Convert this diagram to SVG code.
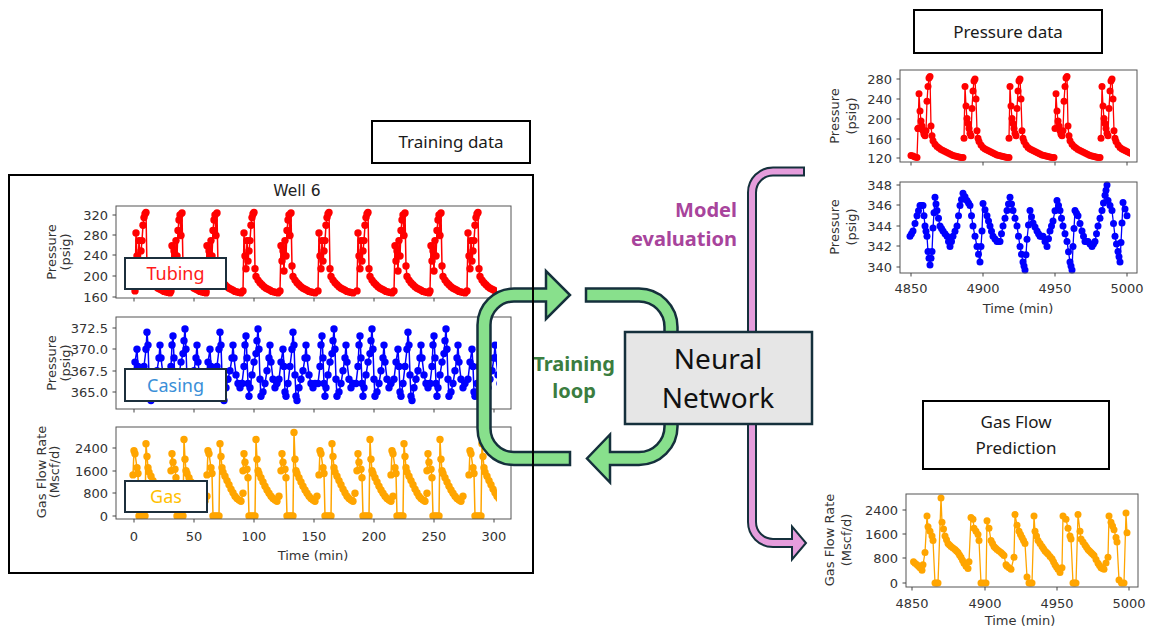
<svg xmlns="http://www.w3.org/2000/svg" xmlns:xlink="http://www.w3.org/1999/xlink" width="1155" height="633" viewBox="0 0 1155 633">
<style>
.frame{fill:none;stroke:#555;stroke-width:1}
.tick{stroke:#444;stroke-width:1;fill:none}
.tl{font-family:"DejaVu Sans",sans-serif;font-size:13px;fill:#333}
.ye{text-anchor:end}
.xm{text-anchor:middle}
.al{font-family:"DejaVu Sans",sans-serif;font-size:13px;fill:#333;text-anchor:middle}
.lr{fill:none;stroke:#ff0000;stroke-width:1.5;marker-start:url(#mR);marker-mid:url(#mR);marker-end:url(#mR)}
.lb{fill:none;stroke:#0000ff;stroke-width:1.5;marker-start:url(#mB);marker-mid:url(#mB);marker-end:url(#mB)}
.lo{fill:none;stroke:#ffa500;stroke-width:1.5;marker-start:url(#mO);marker-mid:url(#mO);marker-end:url(#mO)}
.lr2{fill:none;stroke:#ff0000;stroke-width:1.3;marker-start:url(#mR2);marker-mid:url(#mR2);marker-end:url(#mR2)}
.lb2{fill:none;stroke:#0000ff;stroke-width:1.3;marker-start:url(#mB2);marker-mid:url(#mB2);marker-end:url(#mB2)}
.lo2{fill:none;stroke:#ffa500;stroke-width:1.3;marker-start:url(#mO2);marker-mid:url(#mO2);marker-end:url(#mO2)}
.box{fill:#fff;stroke:#000;stroke-width:2}
.ttl{font-family:"Noto Sans",sans-serif;font-size:17px;fill:#1a1a1a;text-anchor:middle}
.lbl{fill:#fff;stroke:#1c2f3c;stroke-width:2}
.lbt{font-family:"Noto Sans",sans-serif;font-size:18px;text-anchor:middle}
.arrG{fill:#88e08c;stroke:#15303c;stroke-width:2.5;stroke-linejoin:miter}
.arrP{fill:#e59ddc;stroke:#15303c;stroke-width:2;stroke-linejoin:miter}
</style>
<defs>
<marker id="mR" markerUnits="userSpaceOnUse" markerWidth="10" markerHeight="10" refX="5" refY="5" overflow="visible"><circle cx="5" cy="5" r="3.7" fill="#ff0000"/></marker>
<marker id="mB" markerUnits="userSpaceOnUse" markerWidth="10" markerHeight="10" refX="5" refY="5" overflow="visible"><circle cx="5" cy="5" r="3.7" fill="#0000ff"/></marker>
<marker id="mO" markerUnits="userSpaceOnUse" markerWidth="10" markerHeight="10" refX="5" refY="5" overflow="visible"><circle cx="5" cy="5" r="3.7" fill="#ffa500"/></marker>
<marker id="mR2" markerUnits="userSpaceOnUse" markerWidth="10" markerHeight="10" refX="5" refY="5" overflow="visible"><circle cx="5" cy="5" r="3.5" fill="#ff0000"/></marker>
<marker id="mB2" markerUnits="userSpaceOnUse" markerWidth="10" markerHeight="10" refX="5" refY="5" overflow="visible"><circle cx="5" cy="5" r="3.5" fill="#0000ff"/></marker>
<marker id="mO2" markerUnits="userSpaceOnUse" markerWidth="10" markerHeight="10" refX="5" refY="5" overflow="visible"><circle cx="5" cy="5" r="3.5" fill="#ffa500"/></marker>
<clipPath id="cL1"><rect x="116" y="206" width="381" height="92"/></clipPath>
<clipPath id="cL2"><rect x="116" y="317" width="381" height="92"/></clipPath>
<clipPath id="cL3"><rect x="116" y="427" width="381" height="92"/></clipPath>
<clipPath id="cR1"><rect x="900" y="70" width="230" height="92"/></clipPath>
<clipPath id="cR3"><rect x="906" y="494" width="225" height="93"/></clipPath>
<polyline id="tubA" class="lr" points="0,290.9 1,232.9 2,256 3,268.8 4,240.6 5,261.1 6,250.9 7,240.6 8,225.3 9,217.6 10,214 11,212.4 12,268.8 13,276.5 15,280.1 17,282.7 19,284.7 21,286.8 23,288.3 25,289.3 27,290.3 29,291.4 31,291.9 33,292.4 35,292.9"/>
<polyline id="tubB" class="lr" points="0,291 1,245.8 2,261 3,251 4,271 5,240.6 6,256 7,230.4 8,220 9,215 10,235.5 11,213 12,266 13,276.5 15,280.1 17,282.7 19,284.7 21,286.8 23,288.3 25,289.3 27,290.3 29,291.4 31,291.9 33,292.4 35,292.9"/>
<polyline id="casA" class="lb" points="0,379.2 2,362.1 4,349.3 5,366.4 6,392 7,396.3 9,383.5 11,366.4 13,349.3 14,332.3 15,345.1 16,374.9 17,396.3 18,400.5 20,387.7 22,379.2 24,370.7 26,357.9 27,345.1 28,357.9 30,374.9 32,383.5 34,387.7 36,383.5"/>
<polyline id="casB" class="lb" points="0,383.5 2,366.4 3,345 4,336 5,357.9 6,383.5 7,396.3 8,387.7 10,374.9 12,362.1 14,353.6 15,340.8 16,328.9 17,349.3 18,379.2 19,396.3 21,392 23,383.5 25,370.7 27,357.9 28,345.1 29,362.1 31,379.2 33,387.7 35,383.5"/>
<polyline id="gasA" class="lo" points="0,474.9 1,450.8 2,453.7 4,467.8 5,473.5 6,516 8,516 10,516 12,516 13,443.8 14,456.5 15,467.8 16,472.1 18,476.3 20,480.6 22,484.8 24,489.1 26,492.8 28,496.2 30,498.4 32,500.1 34,501.3 36,493.3"/>
<polyline id="gasB" class="lo" points="0,470.7 1,453.7 2,462.2 4,469.3 5,477.8 6,516 8,516 10,516 12,516 13,439.5 14,459.3 15,470.7 16,473.5 18,477.8 20,482 22,486.3 24,489.9 26,493.3 28,496.2 30,498.4 32,500.1 34,501.3 36,496.2"/>
<polyline id="gasC" class="lo" points="0,470.7 1,453.7 2,462.2 4,469.3 5,477.8 6,516 8,516 10,516 12,516 13,432.4 14,459.3 15,470.7 16,473.5 18,477.8 20,482 22,486.3 24,489.9 26,493.3 28,496.2 30,498.4 32,500.1 34,501.3 36,496.2"/>
<polyline id="rpA" class="lr2" points="0,128.4 1,93.8 2,111 3,121 4,125.9 5,130.8 6,134.3 7,135.8 8,130.8 9,101.2 10,86.4 11,78 12,76.5 13,125.9 14,135.8 15,140.7 17,144.2 19,146.6 21,148.1 23,149.6 25,150.6 27,151.6 29,152.6 31,153.6 33,154.5 35,155.5 37,156 39,156.5 41,157 43,157.5 45,157.5"/>
<polyline id="rpB" class="lr2" points="0,138.2 1,86.4 2,106.1 3,118.5 4,123.4 5,128.4 6,133.3 7,135.8 8,108.6 9,91 10,81 11,79 12,99 13,130.8 14,138.2 15,141.5 17,144.9 19,147.4 21,148.9 23,150.1 25,151.1 27,152.1 29,153.1 31,154 33,155 35,155.5 37,156 39,156.5 41,157 43,157.5 45,157.5"/>
</defs>
<rect width="1155" height="633" fill="#fff"/>

<g id="training-data-label">
<rect class="box" x="372" y="121" width="158" height="42"/>
<text class="ttl" x="451" y="148">Training data</text>
</g>

<g id="well6-panel">
<text x="297" y="196" font-family="DejaVu Sans, sans-serif" font-size="15.5" fill="#222" text-anchor="middle">Well 6</text>
<g id="plot-tubing">
<g clip-path="url(#cL1)">
<use href="#tubA" x="135"/><use href="#tubB" x="171"/><use href="#tubB" x="206"/><use href="#tubA" x="243"/><use href="#tubB" x="280"/>
<use href="#tubA" x="318"/><use href="#tubA" x="357"/><use href="#tubB" x="394"/><use href="#tubB" x="430"/><use href="#tubA" x="467"/>
</g>
<rect class="frame" x="116" y="206" width="395" height="92"/>
<path class="tick" d="M112.5 215H116M112.5 235H116M112.5 255H116M112.5 276H116M112.5 297H116M134 298V301.5M194 298V301.5M254 298V301.5M314 298V301.5M374 298V301.5M434 298V301.5M494 298V301.5"/>
<g class="tl ye"><text x="108" y="219.5">320</text><text x="108" y="239.5">280</text><text x="108" y="259.5">240</text><text x="108" y="280.5">200</text><text x="108" y="301.5">160</text></g>
<text class="al" x="56" y="252" transform="rotate(-90 56 252)">Pressure</text>
<text class="al" x="70" y="252" transform="rotate(-90 70 252)">(psig)</text>
</g>
<g id="plot-casing">
<g clip-path="url(#cL2)">
<use href="#casA" x="133"/><use href="#casB" x="169"/><use href="#casA" x="206"/><use href="#casB" x="242"/><use href="#casA" x="279"/>
<use href="#casB" x="318"/><use href="#casB" x="356"/><use href="#casA" x="394"/><use href="#casB" x="430"/><use href="#casA" x="468"/>
</g>
<rect class="frame" x="116" y="317" width="395" height="92"/>
<path class="tick" d="M112.5 328H116M112.5 349H116M112.5 371H116M112.5 392H116M134 409V412.5M194 409V412.5M254 409V412.5M314 409V412.5M374 409V412.5M434 409V412.5M494 409V412.5"/>
<g class="tl ye"><text x="108" y="332.5">372.5</text><text x="108" y="353.5">370.0</text><text x="108" y="375.5">367.5</text><text x="108" y="396.5">365.0</text></g>
<text class="al" x="56" y="363" transform="rotate(-90 56 363)">Pressure</text>
<text class="al" x="70" y="363" transform="rotate(-90 70 363)">(psig)</text>
</g>
<g id="plot-gas">
<g clip-path="url(#cL3)">
<use href="#gasA" x="133"/><use href="#gasB" x="171"/><use href="#gasA" x="207"/><use href="#gasB" x="243"/><use href="#gasC" x="281"/>
<use href="#gasA" x="319"/><use href="#gasB" x="357"/><use href="#gasA" x="391"/><use href="#gasB" x="427"/><use href="#gasA" x="469"/>
</g>
<rect class="frame" x="116" y="427" width="395" height="92"/>
<path class="tick" d="M112.5 448H116M112.5 471H116M112.5 493H116M112.5 516H116M134 519V522.5M194 519V522.5M254 519V522.5M314 519V522.5M374 519V522.5M434 519V522.5M494 519V522.5"/>
<g class="tl ye"><text x="108" y="452.5">2400</text><text x="108" y="475.5">1600</text><text x="108" y="497.5">800</text><text x="108" y="520.5">0</text></g>
<g class="tl xm"><text x="134" y="541">0</text><text x="194" y="541">50</text><text x="254" y="541">100</text><text x="314" y="541">150</text><text x="374" y="541">200</text><text x="434" y="541">250</text><text x="494" y="541">300</text></g>
<text class="al" x="313" y="560">Time (min)</text>
<text class="al" x="46" y="472" transform="rotate(-90 46 472)">Gas Flow Rate</text>
<text class="al" x="59" y="472" transform="rotate(-90 59 472)">(Mscf/d)</text>
</g>
<g id="series-labels">
<rect class="lbl" x="125" y="258" width="101" height="31"/>
<text class="lbt" x="175.5" y="280" fill="#ff1a1a">Tubing</text>
<rect class="lbl" x="125" y="369" width="101" height="32"/>
<text class="lbt" x="175.5" y="391.5" fill="#3a8fd8">Casing</text>
<rect class="lbl" x="125" y="481" width="82" height="31"/>
<text class="lbt" x="166" y="503" fill="#ffc000">Gas</text>
</g>
</g>

<g id="right-plots">
<g id="plot-pressure-pred">
<g clip-path="url(#cR1)">
<polyline class="lr2" points="911,155.5 913,156 915,157 917,157.5 918,128.4"/>
<use href="#rpA" x="918"/><use href="#rpB" x="964"/><use href="#rpB" x="1009"/><use href="#rpA" x="1055"/><use href="#rpB" x="1101"/>
</g>
<rect class="frame" x="900" y="70" width="237" height="92"/>
<path class="tick" d="M896.5 79H900M896.5 99H900M896.5 119H900M896.5 139H900M896.5 158H900M911 162V165.5M983 162V165.5M1055 162V165.5M1127 162V165.5"/>
<g class="tl ye"><text x="892" y="83.5">280</text><text x="892" y="103.5">240</text><text x="892" y="123.5">200</text><text x="892" y="143.5">160</text><text x="892" y="162.5">120</text></g>
<text class="al" x="839" y="116" transform="rotate(-90 839 116)">Pressure</text>
<text class="al" x="856" y="116" transform="rotate(-90 856 116)">(psig)</text>
</g>
<g id="plot-casing-pred">
<polyline class="lb2" points="910,236.3 911.5,233.7 913,231.1 915,223.5 917,215.8 918.5,210.7 920,205.5 921.5,205.5 923,205.5 924,215.8 925,226 926,231.2 927,236.3 928,251.6 929,258.3 930,265 931,258.3 932,251.6 933,228.1 934,212.7 935,197.3 936,204 937,210.6 938.5,218.3 940,226 941.5,228.6 943,231.1 945,233.7 947,236.3 948.5,241.4 950,246.5 951.5,241.4 953,236.3 955,231.2 957,226 958.5,215.8 960,205.5 961.5,199.4 963,193.2 965,196.8 967,200.4 968.5,203 970,205.5 971.5,215.8 973,226 975,236.3 977,246.5 978.5,254.2 980,261.9 981,246.5 982,231.1 983,203.5 985,209.7 987,215.8 988.5,220.9 990,226 991.5,231.2 993,236.3 995,238.9 997,241.4 998.5,241.4 1000,241.4 1001.5,233.7 1003,226 1005,218.3 1007,210.6 1008.5,204 1010,197.3 1011.5,204 1013,210.6 1015,218.3 1017,226 1018.5,236.3 1020,246.5 1021.5,254.2 1023,261.9 1024,266 1025,270.1 1026,254.7 1027,239.3 1028.5,225 1030,210.6 1031.5,216.8 1033,222.9 1035,227 1037,231.1 1038.5,233.7 1040,236.3 1041.5,236.3 1043,236.3 1045,241.4 1047,246.5 1048.5,238.8 1050,231.1 1051.5,226 1053,220.9 1055,210.7 1057,200.4 1058.5,205.5 1060,210.6 1061.5,218.3 1063,226 1065,233.7 1067,241.4 1068.5,251.7 1070,261.9 1071,266 1072,270.1 1073,246.5 1074,228.6 1075,210.6 1076.5,213.2 1078,215.8 1080,223.5 1082,231.1 1083.5,236.3 1085,241.4 1086.5,241.4 1088,241.4 1090,244 1092,246.5 1093.5,244 1095,241.4 1096.5,233.7 1098,226 1100,218.3 1102,210.6 1103.5,203 1105,195.3 1106,190.2 1107,185 1108,200.4 1110,205.5 1112,210.6 1113.5,223.5 1115,236.3 1116.5,244 1118,251.6 1119,256.8 1120,261.9 1121,242.4 1122,222.9 1123,202.4 1125,209.1 1127,215.8"/>
<rect class="frame" x="900" y="182" width="237" height="91"/>
<path class="tick" d="M896.5 185H900M896.5 205H900M896.5 226H900M896.5 246H900M896.5 267H900M911 273V276.5M983 273V276.5M1055 273V276.5M1127 273V276.5"/>
<g class="tl ye"><text x="892" y="189.5">348</text><text x="892" y="209.5">346</text><text x="892" y="230.5">344</text><text x="892" y="250.5">342</text><text x="892" y="271.5">340</text></g>
<g class="tl xm"><text x="911" y="293">4850</text><text x="983" y="293">4900</text><text x="1055" y="293">4950</text><text x="1127" y="293">5000</text></g>
<text class="al" x="1018" y="313">Time (min)</text>
<text class="al" x="839" y="227" transform="rotate(-90 839 227)">Pressure</text>
<text class="al" x="856" y="227" transform="rotate(-90 856 227)">(psig)</text>
</g>
<g id="plot-gas-pred">
<g clip-path="url(#cR3)">
<polyline class="lo2" points="913.5,561.7 915,563.2 917,564.8 918.5,566.3 920,567.8 922,570.2 923,564.8 925,552.6 927,516.1 928,526.8 930,531.3 932,535.9 933,540.4 935,583 936.5,583 938,583 941,497.9 942,522.2 943.5,529 945,535.9 946.5,539.7 948,543.5 949.5,545 951,546.5 953,548 955,549.6 956.5,551.1 958,552.6 959.5,554.9 961,557.2 962.5,560.2 964,563.2 966,566.3 968,568.4 969,561.7 971,517.6 973,519.2 974,528.3 976,531.3 978,534.4 979,540.4 981,583 983.5,583 986,583 987,520.7 989,528.3 991,540.4 992.5,543.5 994,546.5 995.5,548 997,549.6 999,551.1 1001,552.6 1002.5,554.1 1004,555.6 1006,564.8 1007,566.3 1009,567.8 1011,569.3 1014,557.2 1015,514.6 1017,525.2 1019,531.3 1020.5,534.4 1022,537.4 1023.5,540.4 1025,543.5 1027,576.9 1029,583 1030.5,583 1032,583 1034,516.1 1035,531.3 1036.5,535.9 1038,540.4 1040,543.5 1042,546.5 1043.5,548.8 1045,551.1 1046.5,552.6 1048,554.1 1050,556.4 1052,558.7 1053.5,561.8 1055,564.8 1056.5,567 1058,569.3 1060,572.4 1062,567.8 1063,516.1 1066,519.2 1068,528.3 1070,535.9 1071,538.9 1073,583 1074.5,583 1076,583 1078,514.6 1080,531.3 1081,538.9 1083,542 1085,545 1086.5,547.3 1088,549.6 1089.5,551.1 1091,552.6 1092.5,554.1 1094,555.6 1096,559.4 1098,563.2 1099.5,565.5 1101,567.8 1102.5,568.6 1104,569.3 1106,563 1108,557.2 1109,516.1 1111,522.2 1112.5,526 1114,529.8 1116,537.4 1117,542 1119,580 1121.5,583 1124,583 1126,513.1 1127,532.8"/>
</g>
<rect class="frame" x="906" y="494" width="232" height="93"/>
<path class="tick" d="M902.5 510H906M902.5 534H906M902.5 558H906M902.5 583H906M912 587V590.5M985 587V590.5M1057 587V590.5M1129 587V590.5"/>
<g class="tl ye"><text x="898" y="514.5">2400</text><text x="898" y="538.5">1600</text><text x="898" y="562.5">800</text><text x="898" y="587.5">0</text></g>
<g class="tl xm"><text x="912" y="608">4850</text><text x="985" y="608">4900</text><text x="1057" y="608">4950</text><text x="1129" y="608">5000</text></g>
<text class="al" x="1020" y="625">Time (min)</text>
<text class="al" x="834" y="540" transform="rotate(-90 834 540)">Gas Flow Rate</text>
<text class="al" x="851" y="540" transform="rotate(-90 851 540)">(Mscf/d)</text>
</g>
</g>

<g id="pressure-data-label">
<rect class="box" x="914" y="10" width="188" height="43"/>
<text class="ttl" x="1008" y="38">Pressure data</text>
</g>
<g id="gas-flow-prediction-label">
<rect class="box" x="923" y="401" width="186" height="68"/>
<text class="ttl" x="1016" y="428">Gas Flow</text>
<text class="ttl" x="1016" y="454">Prediction</text>
</g>

<g id="connectors">
<path id="loop-left" class="arrG" d="M570 452 L514 452 A23.5 23.5 0 0 1 490.5 428.5 L490.5 325 A23.5 23.5 0 0 1 514 301.5 L546 301.5 L546 319 L570 295 L546 271 L546 288.5 L514 288.5 A36.5 36.5 0 0 0 477.5 325 L477.5 428.5 A36.5 36.5 0 0 0 514 465 L570 465 Z"/>
<path id="loop-right" class="arrG" d="M586 288.5 L639 288.5 A38.5 38.5 0 0 1 677.5 327 L677.5 426.5 A38.5 38.5 0 0 1 639 465 L610 465 L610 482.5 L587 458.5 L610 434.5 L610 452 L639 452 A25.5 25.5 0 0 0 664.5 426.5 L664.5 327 A25.5 25.5 0 0 0 639 301.5 L586 301.5 Z"/>
<path id="model-eval" class="arrP" d="M804 167.5 L773 167.5 A25 25 0 0 0 748 192.5 L748 522 A25 25 0 0 0 773 547 L792 547 L792 559.5 L806 543 L792 526.5 L792 539 L773 539 A17 17 0 0 1 756 522 L756 192.5 A17 17 0 0 1 773 175.5 L804 175.5 Z"/>
<text x="574" y="371" font-family="Noto Sans, sans-serif" font-size="20" font-weight="bold" fill="#3b7d3f" text-anchor="middle">Training</text>
<text x="574" y="398" font-family="Noto Sans, sans-serif" font-size="20" font-weight="bold" fill="#3b7d3f" text-anchor="middle">loop</text>
<text x="737" y="217" font-family="Noto Sans, sans-serif" font-size="20" font-weight="bold" fill="#a8449c" text-anchor="end">Model</text>
<text x="737" y="246" font-family="Noto Sans, sans-serif" font-size="20" font-weight="bold" fill="#a8449c" text-anchor="end">evaluation</text>
</g>

<g id="neural-network">
<rect x="625" y="332" width="187" height="92" fill="#e6e6e6" stroke="#15303c" stroke-width="2.5"/>
<text x="718" y="369" font-family="Noto Sans, sans-serif" font-size="28" fill="#111" text-anchor="middle">Neural</text>
<text x="718" y="408" font-family="Noto Sans, sans-serif" font-size="28" fill="#111" text-anchor="middle">Network</text>
</g>

<g id="training-frame">
<rect x="9" y="175" width="524" height="398" fill="none" stroke="#000" stroke-width="2"/>
</g>
</svg>
